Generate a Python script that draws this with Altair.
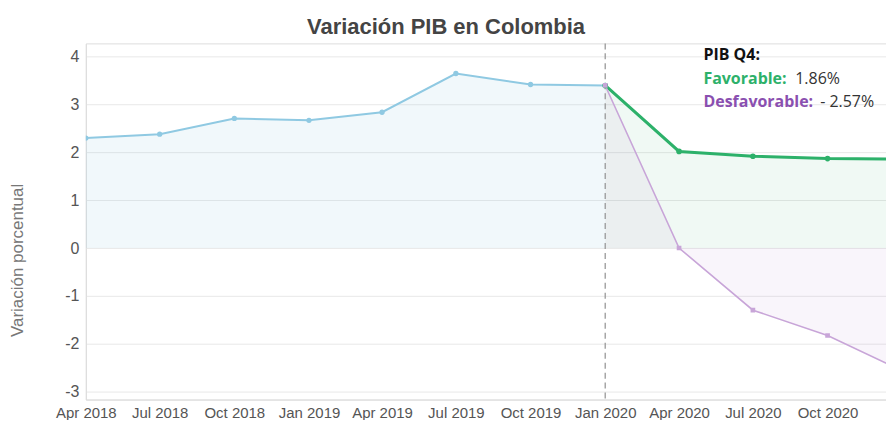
import altair as alt
import pandas as pd

# ---- data ----
hist_dates = ["2018-04-01", "2018-07-01", "2018-10-01", "2019-01-01",
              "2019-04-01", "2019-07-01", "2019-10-01", "2020-01-01"]
hist_values = [2.30, 2.38, 2.71, 2.67, 2.84, 3.65, 3.42, 3.40]

proj_dates = ["2020-01-01", "2020-04-01", "2020-07-01", "2020-10-01", "2021-01-01"]
favorable_values = [3.40, 2.02, 1.92, 1.87, 1.86]
desfavorable_values = [3.40, 0.00, -1.30, -1.83, -2.57]

tick_labels_dates = hist_dates + proj_dates[1:4]
y_ticks = [-3, -2, -1, 0, 1, 2, 3, 4]

annot_date = "2020-05-01"
annot_lines = ["PIB Q4:", "Favorable:", "Desfavorable:"]
annot_values = ["", "1.86%", "- 2.57%"]
annot_y = [4.03, 3.53, 3.05]
annot_colors = ["#111111", "#2db16a", "#8a4fb0"]
annot_value_dx = [0, 92, 117]

# ---- tables ----
hist = pd.DataFrame({"date": hist_dates, "value": hist_values})
fav = pd.DataFrame({"date": proj_dates, "value": favorable_values})
desf = pd.DataFrame({"date": proj_dates, "value": desfavorable_values})
rule_df = pd.DataFrame({"date": ["2020-01-01"]})
annot = pd.DataFrame({"date": [annot_date] * 3, "y": annot_y,
                      "label": annot_lines, "val": annot_values,
                      "color": annot_colors, "dx": annot_value_dx})


def dt(s):
    y, m, d = [int(p) for p in s.split("-")]
    return alt.DateTime(year=y, month=m, date=d, utc=True)


xscale = alt.Scale(type="utc", domain=[dt("2018-04-01"), dt("2020-12-12")])
yscale = alt.Scale(domain=[-3.17, 4.28], nice=False, zero=False)

xaxis = alt.Axis(values=[dt(s) for s in tick_labels_dates], format="%b %Y",
                 title=None, grid=False, ticks=False, labelFont="Liberation Sans",
                 labelFontSize=15, labelColor="#555555", labelPadding=6,
                 domainColor="#dddddd", labelOverlap=False, labelFlush=False,
                 labelBound=False)
yaxis = alt.Axis(values=y_ticks, title="Variación porcentual", grid=True,
                 gridColor="#e8e8e8", ticks=False, labelFont="Liberation Sans",
                 labelFontSize=16, labelColor="#555555", labelPadding=7,
                 labelExpr="datum.value < 0 ? '-' + abs(datum.value) : '' + datum.value",
                 domainColor="#dddddd", titleFont="Liberation Sans",
                 titleFontSize=17, titleFontWeight="normal", titleColor="#777777",
                 titleX=-68, titleY=217, titleAngle=270, titleBaseline="middle",
                 titleAlign="center")

X = alt.X("date:T", scale=xscale, axis=xaxis)
Y = alt.Y("value:Q", scale=yscale, axis=yaxis)
Yn = alt.Y("value:Q", scale=yscale)


def series(df, color, fill, fill_op, width, size, shape="circle"):
    area = alt.Chart(df).mark_area(clip=True, color=fill, opacity=fill_op).encode(
        x=X, y=Yn, y2=alt.datum(0))
    line = alt.Chart(df).mark_line(clip=True, color=color, strokeWidth=width).encode(x=X, y=Yn)
    pts = alt.Chart(df).mark_point(clip=True, filled=True, color=color, size=size,
                                   shape=shape, opacity=1).encode(x=X, y=Yn)
    return area, line, pts


b_area, b_line, b_pts = series(hist, "#8fc9e2", "#8fc9e2", 0.13, 2, 28)
g_area, g_line, g_pts = series(fav, "#2db16a", "#2db16a", 0.07, 3, 32)
p_area, p_line, p_pts = series(desf, "#c8a5d8", "#a878c4", 0.07, 1.6, 22, "square")

axes_layer = alt.Chart(hist).mark_point(opacity=0).encode(x=X, y=Y)

rule = alt.Chart(rule_df).mark_rule(color="#999999", strokeDash=[6, 4],
                                    strokeWidth=1.3).encode(x=X)

ann_label = alt.Chart(annot).mark_text(align="left", baseline="middle",
                                       font="Open Sans", fontSize=16,
                                       fontWeight="bold").encode(
    x=X, y=alt.Y("y:Q", scale=yscale), text="label:N",
    color=alt.Color("color:N", scale=None))

ann_val1 = alt.Chart(annot.iloc[[1]]).mark_text(
    align="left", baseline="middle", font="Open Sans", fontSize=16,
    color="#333333", dx=int(annot_value_dx[1])).encode(
    x=X, y=alt.Y("y:Q", scale=yscale), text="val:N")
ann_val2 = alt.Chart(annot.iloc[[2]]).mark_text(
    align="left", baseline="middle", font="Open Sans", fontSize=16,
    color="#333333", dx=int(annot_value_dx[2])).encode(
    x=X, y=alt.Y("y:Q", scale=yscale), text="val:N")

chart = alt.layer(
    axes_layer, b_area, g_area, p_area, rule,
    b_line, g_line, p_line, b_pts, g_pts, p_pts,
    ann_label, ann_val1, ann_val2
).properties(
    width=802, height=357,
    title=alt.TitleParams("Variación PIB en Colombia", fontSize=22,
                          font="Liberation Sans", fontWeight="bold",
                          color="#444444", anchor="middle", dx=-40, offset=4),
    autosize="none",
    padding={"left": 78, "top": 35, "right": 0, "bottom": 20},
).configure_view(stroke=None).configure(background="white")

chart.save("out.html", embed_options={"renderer": "svg", "actions": False})
